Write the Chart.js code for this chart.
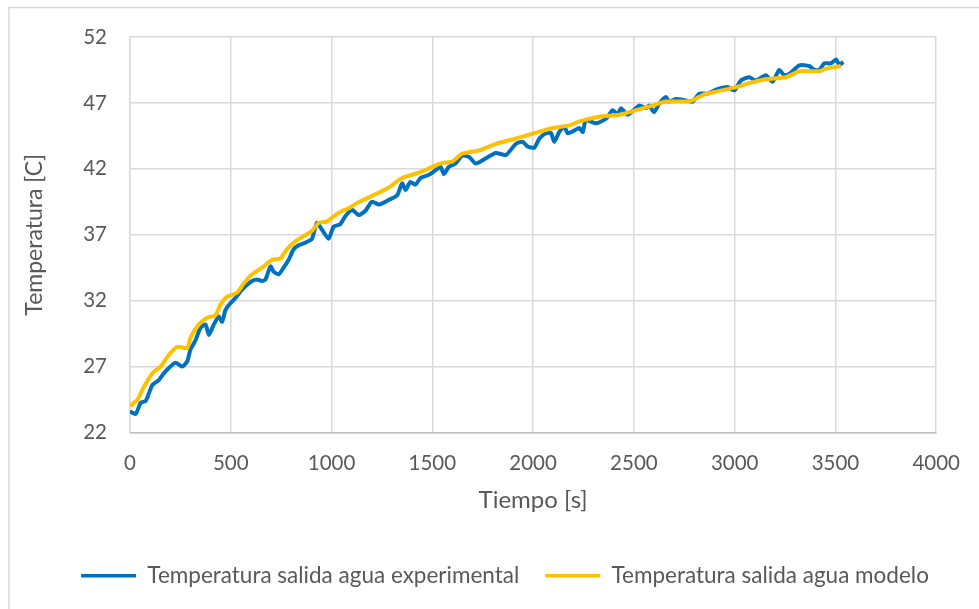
<!DOCTYPE html>
<html>
<head>
<meta charset="utf-8">
<script src="https://cdn.jsdelivr.net/npm/chart.js@4.4.1/dist/chart.umd.min.js"></script>
<style>
    body { margin: 0; background: #fff; }
    #wrap { width: 979px; height: 609px; }
</style>
</head>
<body>
<div id="wrap"><canvas id="temp-chart" width="979" height="609"></canvas></div>
<script>
// experimental outlet water temperature
const timeExp = [0, 28, 53, 78, 111, 144, 168, 193, 226, 259, 284, 300, 325, 350, 375, 391, 416, 441, 457, 474,
    498, 523, 548, 581, 606, 630, 655, 672, 697, 713, 738, 762, 787, 812, 837, 870, 903, 927, 952, 985,
    1010, 1043, 1068, 1101, 1134, 1167, 1200, 1236, 1285, 1326, 1350, 1367, 1391, 1416, 1441, 1483, 1516, 1541, 1557, 1582,
    1615, 1648, 1683, 1716, 1766, 1815, 1865, 1915, 1948, 1973, 2006, 2031, 2064, 2089, 2105, 2130, 2155, 2171, 2204, 2229,
    2246, 2262, 2312, 2362, 2395, 2420, 2436, 2469, 2527, 2560, 2576, 2600, 2626, 2659, 2675, 2708, 2741, 2791, 2824, 2865,
    2907, 2965, 2998, 3031, 3072, 3105, 3155, 3188, 3221, 3246, 3271, 3321, 3370, 3395, 3420, 3445, 3478, 3503, 3519, 3539];
const tempExp = [23.6, 23.4, 24.25, 24.4, 25.6, 26.0, 26.5, 26.9, 27.3, 27.0, 27.4, 28.3, 29.0, 29.95, 30.2, 29.4, 30.2, 30.8, 30.4, 31.3,
    31.8, 32.2, 32.7, 33.2, 33.5, 33.6, 33.5, 33.6, 34.6, 34.2, 34.0, 34.5, 35.1, 35.9, 36.2, 36.4, 36.7, 37.9, 37.4, 36.7,
    37.6, 37.8, 38.4, 38.9, 38.5, 38.8, 39.5, 39.3, 39.65, 40.0, 40.9, 40.4, 41.0, 40.8, 41.3, 41.55, 41.9, 42.15, 41.6, 42.15,
    42.4, 43.0, 42.9, 42.4, 42.8, 43.2, 43.05, 43.9, 44.05, 43.7, 43.6, 44.3, 44.7, 44.7, 44.05, 44.8, 45.2, 44.7, 44.9, 45.1,
    44.8, 45.7, 45.45, 45.8, 46.45, 46.1, 46.6, 46.1, 46.8, 46.6, 46.8, 46.3, 46.95, 47.45, 47.1, 47.3, 47.25, 47.1, 47.7, 47.7,
    48.0, 48.2, 47.95, 48.7, 48.95, 48.7, 49.1, 48.6, 49.5, 49.1, 49.2, 49.85, 49.8, 49.5, 49.5, 50.0, 50.0, 50.3, 49.9, 50.1];

// model outlet water temperature
const timeMod = [0, 38, 63, 111, 152, 193, 235, 284, 300, 342, 383, 424, 449, 482, 531, 564, 606, 655, 705, 746,
    779, 820, 862, 903, 936, 977, 1010, 1052, 1085, 1126, 1159, 1236, 1285, 1350, 1400, 1450, 1499, 1549, 1599, 1648,
    1733, 1815, 1915, 2006, 2097, 2180, 2229, 2329, 2428, 2511, 2593, 2659, 2741, 2791, 2841, 2907, 3006, 3072, 3155, 3254,
    3321, 3420, 3453, 3527];
const tempMod = [24.0, 24.5, 25.3, 26.5, 27.0, 27.9, 28.5, 28.4, 29.2, 30.2, 30.7, 30.9, 31.7, 32.3, 32.6, 33.3, 34.0, 34.5, 35.1, 35.2,
    35.9, 36.5, 36.9, 37.3, 37.9, 38.0, 38.4, 38.8, 39.0, 39.4, 39.65, 40.2, 40.6, 41.3, 41.55, 41.8, 42.15, 42.45, 42.55, 43.15,
    43.4, 43.9, 44.3, 44.7, 45.1, 45.3, 45.6, 45.95, 46.1, 46.45, 46.8, 47.1, 47.1, 47.2, 47.6, 47.85, 48.2, 48.5, 48.8, 48.95,
    49.4, 49.4, 49.6, 49.8];

const seriesNames = ['Temperatura salida agua experimental', 'Temperatura salida agua modelo'];
const xTitle = 'Tiempo [s]';
const yTitle = 'Temperatura [C]';

const textColor = '#595959';
const gridColor = '#d9d9d9';
const fontFamily = 'Lato, "Open Sans", sans-serif';

// white background + the light frame round the whole chart
const framePlugin = {
    id: 'frame',
    beforeDraw(chart) {
        const ctx = chart.ctx;
        ctx.save();
        ctx.fillStyle = '#fff';
        ctx.fillRect(0, 0, chart.width, chart.height);
        ctx.strokeStyle = gridColor;
        ctx.lineWidth = 1.5;
        ctx.strokeRect(9, 7.5, 1200, 800);
        ctx.restore();
    }
};

// legend in the original sits a bit right of the canvas centre
const legendShift = {
    id: 'legendShift',
    afterLayout(chart) {
        const lg = chart.legend;
        if (!lg) return;
        lg.left += 35;
        lg.right += 35;
        lg.top -= 12;
        lg.bottom -= 12;
    }
};

const toPoints = (xs, ys) => xs.map((x, i) => ({ x: x, y: ys[i] }));

const ctx = document.getElementById('temp-chart').getContext('2d');
const tempChart = new Chart(ctx, {
    type: 'line',
    data: {
        datasets: [{
            label: seriesNames[0],
            data: toPoints(timeExp, tempExp),
            borderColor: '#0070C0',
            backgroundColor: '#0070C0',
            borderWidth: 4,
            pointRadius: 0,
            tension: 0.2,
            order: 1
        }, {
            label: seriesNames[1],
            data: toPoints(timeMod, tempMod),
            borderColor: '#FFC000',
            backgroundColor: '#FFC000',
            borderWidth: 4,
            pointRadius: 0,
            tension: 0.2,
            order: 0
        }]
    },
    options: {
        responsive: false,
        animation: false,
        devicePixelRatio: 1,
        layout: {
            padding: { left: 0, right: 39, top: 37, bottom: 0 }
        },
        plugins: {
            tooltip: { enabled: false },
            legend: {
                position: 'bottom',
                labels: {
                    color: textColor,
                    font: { family: fontFamily, size: 22.5 },
                    boxWidth: 55,
                    boxHeight: 3.5,
                    padding: 26,
                    sort: (a, b) => a.datasetIndex - b.datasetIndex,
                    generateLabels(chart) {
                        const items = Chart.defaults.plugins.legend.labels.generateLabels(chart);
                        items.forEach(item => { item.lineWidth = 0; });
                        return items;
                    }
                }
            }
        },
        scales: {
            x: {
                type: 'linear',
                min: 0,
                max: 4000,
                ticks: {
                    stepSize: 500,
                    color: textColor,
                    font: { family: fontFamily, size: 20.5 },
                    padding: 19,
                    maxRotation: 0,
                    callback: value => String(value)
                },
                grid: { color: gridColor, lineWidth: 1.5, drawTicks: false },
                border: { color: '#bfbfbf', width: 1.5 },
                title: {
                    display: true,
                    text: xTitle,
                    color: textColor,
                    font: { family: fontFamily, size: 24 },
                    padding: { top: 0, bottom: 36 }
                },
                afterFit(scale) { scale.height = 118; }
            },
            y: {
                min: 22,
                max: 52,
                ticks: {
                    stepSize: 5,
                    color: textColor,
                    font: { family: fontFamily, size: 20.5 },
                    padding: 23,
                    callback: value => String(value)
                },
                grid: { color: gridColor, lineWidth: 1.5, drawTicks: false },
                border: { color: gridColor, width: 1.5 },
                title: {
                    display: true,
                    text: yTitle,
                    color: textColor,
                    font: { family: fontFamily, size: 23 },
                    padding: { top: 21, bottom: 0 }
                },
                afterFit(scale) { scale.width = 130; }
            }
        }
    },
    plugins: [framePlugin, legendShift]
});
</script>
</body>
</html>
